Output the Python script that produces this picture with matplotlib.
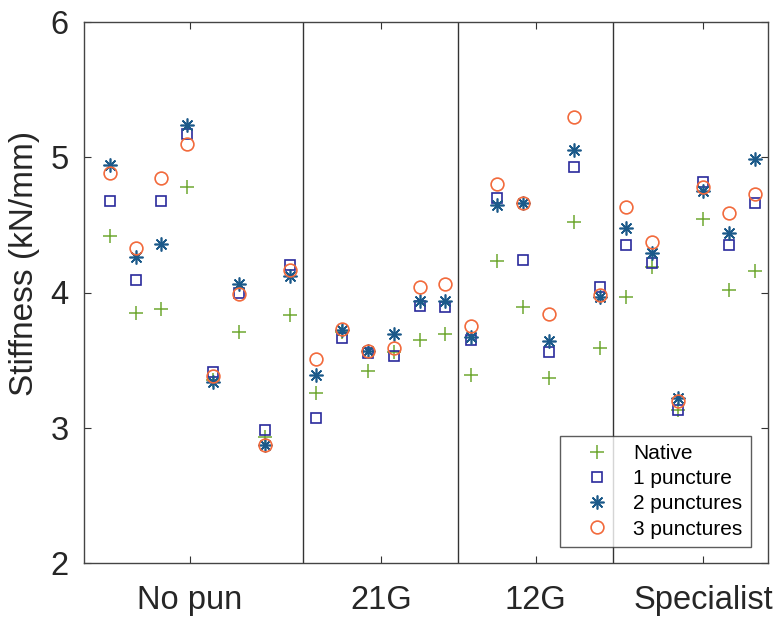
import matplotlib
matplotlib.use("Agg")
import matplotlib.pyplot as plt
import numpy as np

plt.rcParams['font.family'] = ['Liberation Sans', 'DejaVu Sans']

groups = ["No pun", "21G", "12G", "Specialist"]
group_sizes = [8, 6, 6, 6]
group_tick_pos = [4.1, 11.5, 17.5, 24]

native = [4.42, 3.85, 3.88, 4.78, 3.35, 3.71, 2.93, 3.83,
          3.26, 3.71, 3.42, 3.56, 3.65, 3.69,
          3.39, 4.23, 3.89, 3.37, 4.52, 3.59,
          3.97, 4.19, 3.13, 4.54, 4.02, 4.16]
one_puncture = [4.68, 4.09, 4.68, 5.17, 3.41, 4.00, 2.98, 4.20,
                3.07, 3.66, 3.55, 3.53, 3.90, 3.89,
                3.65, 4.70, 4.24, 3.56, 4.93, 4.04,
                4.35, 4.22, 3.13, 4.82, 4.35, 4.66]
two_punctures = [4.94, 4.26, 4.36, 5.24, 3.34, 4.06, 2.87, 4.12,
                 3.39, 3.72, 3.57, 3.69, 3.94, 3.94,
                 3.67, 4.65, 4.66, 3.64, 5.05, 3.97,
                 4.48, 4.29, 3.22, 4.75, 4.44, 4.99]
three_punctures = [4.88, 4.33, 4.85, 5.10, 3.38, 3.99, 2.87, 4.17,
                   3.51, 3.73, 3.57, 3.59, 4.04, 4.06,
                   3.75, 4.80, 4.66, 3.84, 5.30, 3.98,
                   4.63, 4.37, 3.20, 4.78, 4.59, 4.73]

x = np.arange(1, len(native) + 1)

fig = plt.figure(figsize=(7.79, 6.17), dpi=100)
ax = fig.add_axes([84 / 779, 1 - 563 / 617, (768 - 84) / 779, (563 - 22) / 617])

ax.plot(x, native, linestyle='none', marker='+', ms=10, mew=1.1,
        color='#6FA832', label='Native')
ax.plot(x, one_puncture, linestyle='none', marker='s', ms=7.3, mew=1.2,
        mfc='none', mec='#2A2A9C', label='1 puncture')
ax.plot(x, two_punctures, linestyle='none', marker=(8, 2, 0), ms=10, mew=1.2,
        color='#1C5A8A', label='2 punctures')
ax.plot(x, three_punctures, linestyle='none', marker='o', ms=9.2, mew=1.2,
        mfc='none', mec='#F26A3C', label='3 punctures')

# separators between groups
bounds = np.cumsum(group_sizes)[:-1] + 0.5
for b in bounds:
    ax.axvline(b, color='#333333', lw=1.0, zorder=0)

ax.set_xlim(0, 26.5)
ax.set_ylim(2, 6)
ax.set_yticks([2, 3, 4, 5, 6])
ax.set_xticks(group_tick_pos)
ax.set_xticklabels(groups)
ax.tick_params(axis='both', direction='in', length=5, width=0.8,
               colors='#333333', labelcolor='#262626', labelsize=23.5,
               top=True, right=True)
ax.tick_params(axis='x', pad=16)
ax.tick_params(axis='y', pad=11)
for s in ax.spines.values():
    s.set_color('#444444')
    s.set_linewidth(1.0)

ax.set_ylabel('Stiffness (kN/mm)', fontsize=24, color='#262626')
ax.yaxis.set_label_coords(-0.064, 0.553)

leg = ax.legend(loc='lower right', bbox_to_anchor=(0.975, 0.0296),
                borderaxespad=0, fontsize=15, frameon=True, fancybox=False,
                edgecolor='#333333', borderpad=0.4, handletextpad=0.35,
                labelspacing=0.3, handlelength=2.76)
leg.get_frame().set_linewidth(1.0)

fig.savefig('out.png', dpi=100)
